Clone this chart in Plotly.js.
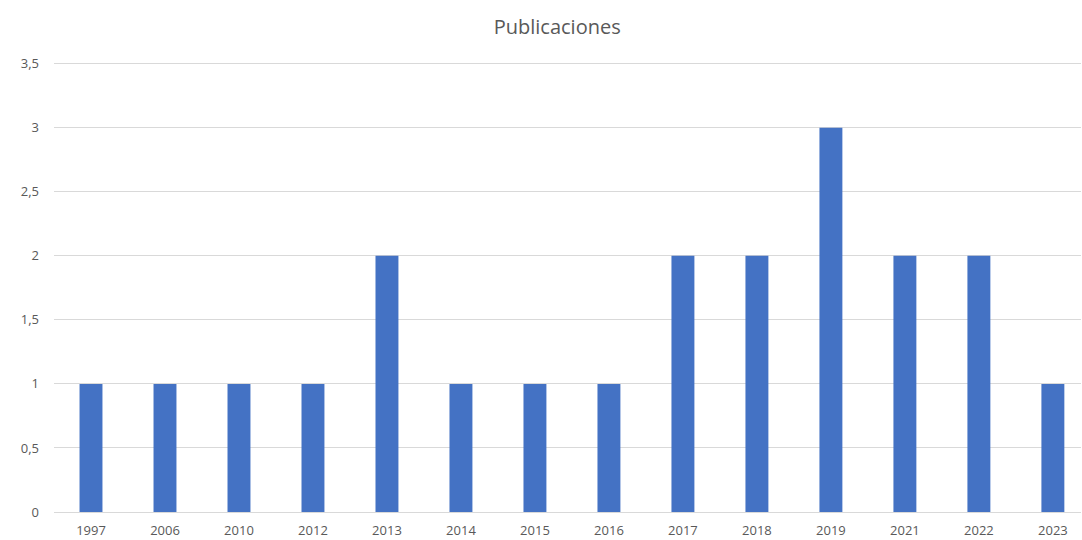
<!DOCTYPE html>
<html>
<head>
<meta charset="utf-8">
<script src="https://cdn.plot.ly/plotly-3.0.1.min.js"></script>
<style>html,body{margin:0;padding:0;background:#fff;}#chart{width:1082px;height:540px;}</style>
</head>
<body>
<div id="chart"></div>
<script>
// Publications per year
var years = ['1997','2006','2010','2012','2013','2014','2015','2016','2017','2018','2019','2021','2022','2023'];
var counts = [1, 1, 1, 1, 2, 1, 1, 1, 2, 2, 3, 2, 2, 1];
var yTicks = [0, 0.5, 1, 1.5, 2, 2.5, 3, 3.5];

var trace = {
  type: 'bar',
  x: years,
  y: counts,
  marker: {color: '#4472c4'},
  hoverinfo: 'x+y'
};

var layout = {
  width: 1082,
  height: 540,
  separators: ',.',
  paper_bgcolor: '#ffffff',
  plot_bgcolor: '#ffffff',
  margin: {l: 54, r: 1, t: 61, b: 28},
  bargap: 0.69,
  showlegend: false,
  title: {
    text: 'Publicaciones',
    font: {family: 'Open Sans, sans-serif', size: 20, color: '#595959'},
    x: 0.515, xanchor: 'center',
    y: 0.95, yanchor: 'middle'
  },
  font: {family: 'Open Sans, sans-serif', color: '#595959'},
  xaxis: {
    type: 'category',
    range: [-0.5, 13.38],
    showgrid: false,
    showline: true,
    linecolor: '#d9d9d9',
    linewidth: 1,
    ticks: '',
    tickfont: {size: 13, color: '#595959'},
    ticklabelstandoff: 6,
    fixedrange: true
  },
  yaxis: {
    range: [0, 3.52],
    tickvals: yTicks,
    showgrid: true,
    gridcolor: '#d9d9d9',
    gridwidth: 1,
    zeroline: false,
    showline: false,
    ticks: '',
    tickfont: {size: 13, color: '#595959'},
    ticklabelstandoff: 14,
    fixedrange: true
  }
};

Plotly.newPlot('chart', [trace], layout, {displayModeBar: false, staticPlot: true});
</script>
</body>
</html>
